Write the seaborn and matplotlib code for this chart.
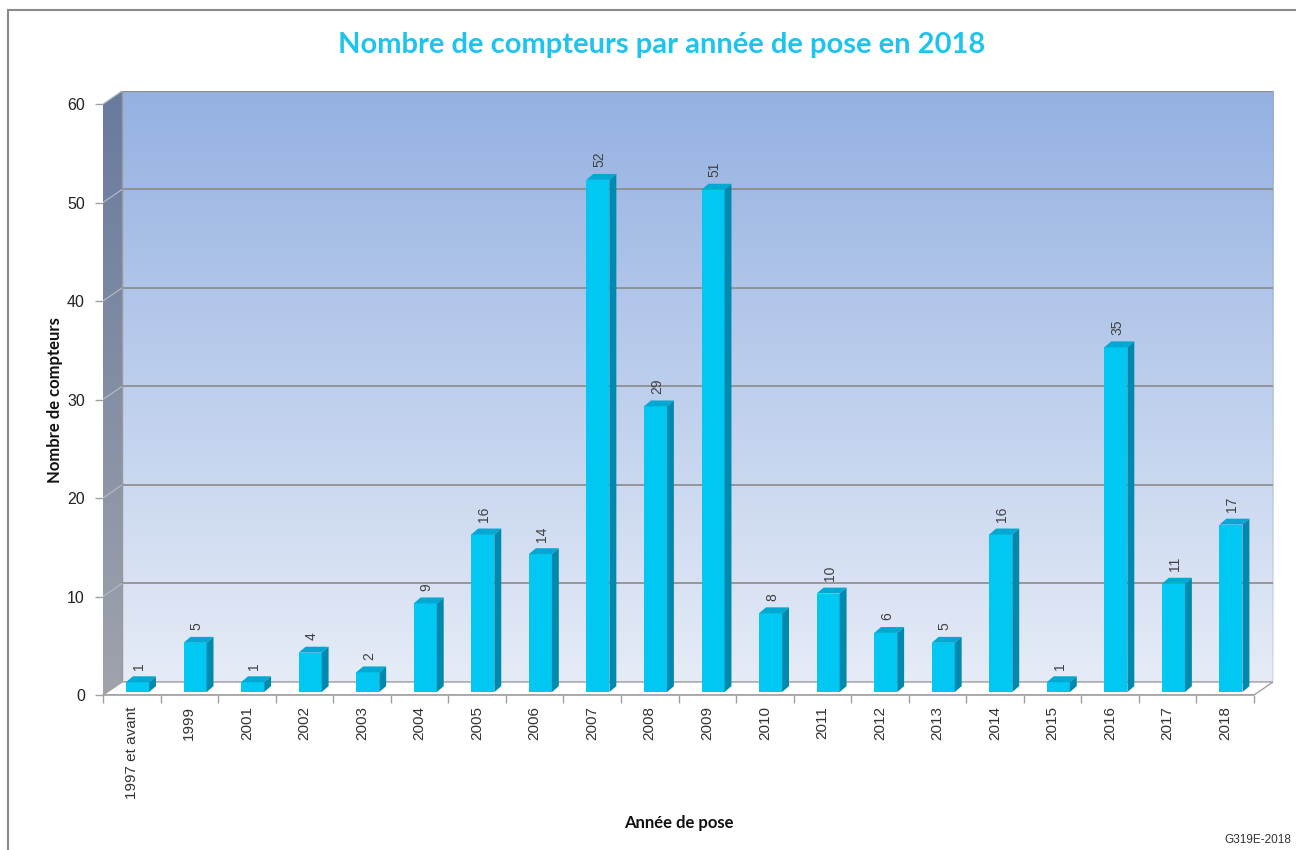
import numpy as np
import matplotlib
matplotlib.use("Agg")
import matplotlib.pyplot as plt
import seaborn as sns
from matplotlib.patches import Polygon, Rectangle

# -----------------------------------------------------------------------------
# Data
# -----------------------------------------------------------------------------
annees = ["1997 et avant", "1999", "2001", "2002", "2003", "2004", "2005", "2006",
          "2007", "2008", "2009", "2010", "2011", "2012", "2013", "2014", "2015",
          "2016", "2017", "2018"]
compteurs = [1, 5, 1, 4, 2, 9, 16, 14, 52, 29, 51, 8, 10, 6, 5, 16, 1, 35, 11, 17]
y_ticks = [0, 10, 20, 30, 40, 50, 60]

titre = "Nombre de compteurs par année de pose en 2018"
label_x = "Année de pose"
label_y = "Nombre de compteurs"
reference = "G319E-2018"

# pseudo 3D geometry (data units)
WALL_DX, WALL_DY = 0.33, 1.32     # depth of the back wall
BAR_DX, BAR_DY = 0.12, 0.6        # depth of each column
BAR_SHIFT_X, BAR_SHIFT_Y = 0.1, 0.3

FRONT = "#00C8F2"
SIDE = "#0089AE"
TOP = "#00A8D2"
GRID = "#8A8A8A"

sns.set_style("white")
plt.rcParams["font.family"] = ["Liberation Sans", "DejaVu Sans"]

fig = plt.figure(figsize=(12.96, 8.5), dpi=100)
ax = fig.add_axes([103 / 1296, 155 / 850, 1170 / 1296, 604 / 850])

n = len(annees)
sns.barplot(x=annees, y=compteurs, color=FRONT, saturation=1, width=0.4,
            edgecolor="none", ax=ax, zorder=3)
bars = list(ax.patches)

x0, x1 = -0.5, n - 0.5
ymax = y_ticks[-1]
ax.set_facecolor("none")
for s in ax.spines.values():
    s.set_visible(False)

# --- back wall gradient ---
top_c = np.array([148, 177, 226]) / 255
bot_c = np.array([230, 236, 247]) / 255
t = np.linspace(0, 1, 256)[:, None, None]
grad = top_c * (1 - t) + bot_c * t
ax.imshow(grad, extent=[x0 + WALL_DX, x1 + WALL_DX, WALL_DY, ymax + WALL_DY],
          aspect="auto", origin="upper", zorder=0)
ax.add_patch(Rectangle((x0 + WALL_DX, WALL_DY), x1 - x0, ymax, fill=False,
                       ec="#9A9A9A", lw=1, zorder=0.6))

# --- left side wall gradient ---
side_top = np.array([104, 122, 158]) / 255
side_bot = np.array([160, 163, 172]) / 255
grad_side = side_top * (1 - t) + side_bot * t
side_poly = Polygon([(x0, 0), (x0, ymax), (x0 + WALL_DX, ymax + WALL_DY),
                     (x0 + WALL_DX, WALL_DY)], closed=True, fc="none", ec="none")
ax.add_patch(side_poly)
im = ax.imshow(grad_side, extent=[x0, x0 + WALL_DX, 0, ymax + WALL_DY],
               aspect="auto", origin="upper", zorder=0.5)
im.set_clip_path(side_poly)

# --- floor ---
ax.add_patch(Polygon([(x0, 0), (x1, 0), (x1 + WALL_DX, WALL_DY), (x0 + WALL_DX, WALL_DY)],
                     closed=True, fc="white", ec="#A0A0A0", lw=1, zorder=0.7))

# --- gridlines on back wall and side wall ---
for v in y_ticks[1:]:
    ax.plot([x0 + WALL_DX, x1 + WALL_DX], [v + WALL_DY, v + WALL_DY],
            color=GRID, lw=1.2, zorder=1)
    ax.plot([x0, x0 + WALL_DX], [v, v + WALL_DY], color="#B8BCC6", lw=0.8, zorder=1)

ax.set_xlim(x0, x1 + WALL_DX)
ax.set_ylim(0, ymax + WALL_DY)

# --- 3D faces of columns ---
for bar, v in zip(bars, compteurs):
    bar.set_x(bar.get_x() + BAR_SHIFT_X)
    bar.set_y(bar.get_y() + BAR_SHIFT_Y)
    bx, by = bar.get_x(), bar.get_y()
    w, h = bar.get_width(), bar.get_height()
    side = Polygon([(bx + w, by), (bx + w, by + h), (bx + w + BAR_DX, by + h + BAR_DY),
                    (bx + w + BAR_DX, by + BAR_DY)], closed=True, fc=SIDE, ec="none", zorder=3)
    top = Polygon([(bx, by + h), (bx + w, by + h), (bx + w + BAR_DX, by + h + BAR_DY),
                   (bx + BAR_DX, by + h + BAR_DY)], closed=True, fc=TOP, ec="none", zorder=3)
    ax.add_patch(side)
    ax.add_patch(top)
    ax.annotate(str(v), (bx + w / 2, by + h), xytext=(1, 9), textcoords="offset points",
                rotation=90, ha="center", va="bottom", fontsize=10, color="#404040")

# --- axis line ---
ax.plot([x0, x1], [0, 0], color="#A0A0A0", lw=1.2, zorder=2, clip_on=False)

ax.set_yticks(y_ticks)
ax.set_yticklabels([str(v) for v in y_ticks])
ax.tick_params(axis="y", length=6, width=1, color="#A0A0A0", pad=7,
               labelsize=11.5, labelcolor="#222222", left=True)
ax.set_xticks(range(n))
ax.set_xticklabels(annees, rotation=90)
ax.tick_params(axis="x", which="major", length=0, pad=8, labelsize=11,
               labelcolor="#333333")
ax.set_xticks(np.arange(x0, x1 + 0.01, 1), minor=True)
ax.tick_params(axis="x", which="minor", length=6, width=1, color="#A0A0A0",
               direction="out", bottom=True)
ax.set_xlabel("")
ax.set_ylabel("")

# --- texts ---
fig.text(662 / 1296, 1 - 45 / 850, titre, ha="center", va="center", fontsize=21,
         fontweight="bold", color="#1EC3EE", family=["Lato", "DejaVu Sans"])
fig.text(55 / 1296, 1 - 400 / 850, label_y, rotation=90, ha="center", va="center",
         fontsize=12, fontweight="bold", color="#111111", family=["Lato", "DejaVu Sans"])
fig.text(679 / 1296, 1 - 823 / 850, label_x, ha="center", va="center",
         fontsize=12, fontweight="bold", color="#111111", family=["Lato", "DejaVu Sans"])
fig.text(1291 / 1296, 1 - 840 / 850, reference, ha="right", va="center",
         fontsize=8.5, color="#333333")

# figure border (cut on right and bottom like the original)
fig.add_artist(Rectangle((8 / 1296, -0.02), 1.05, 1 - 10 / 850 + 0.02,
                         transform=fig.transFigure, fill=False, ec="#8A8A8A", lw=1.5))

fig.savefig("out.png", dpi=100)
